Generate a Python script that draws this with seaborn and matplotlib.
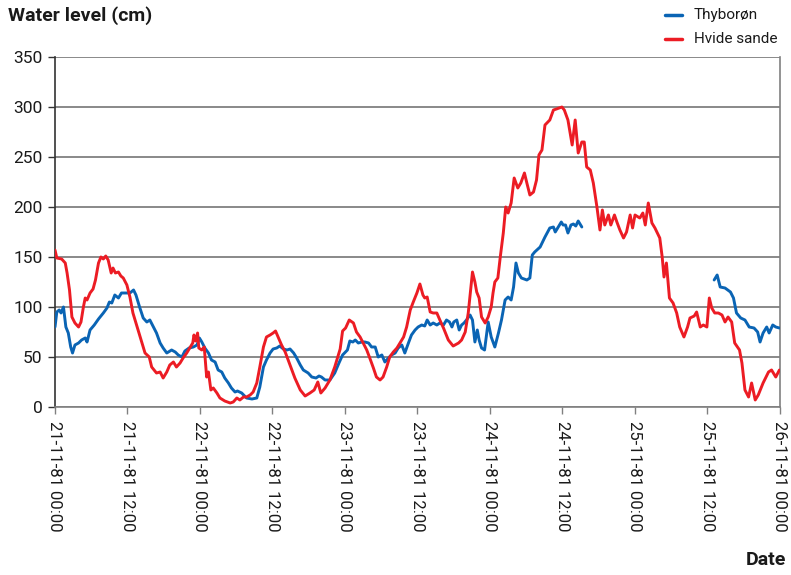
import numpy as np
import pandas as pd
import matplotlib
matplotlib.use("Agg")
import matplotlib.pyplot as plt
import matplotlib.dates as mdates
from matplotlib.lines import Line2D
import seaborn as sns

# Hours after 21-11-81 00:00 and water level (cm)
hvide_hours = [0.0, 0.3, 1.1, 1.7, 2.0, 2.4, 2.8, 3.3, 3.9, 4.3, 4.7, 5.0, 5.3, 5.8, 6.3, 6.7,
               7.2, 7.6, 8.0, 8.4, 8.8, 9.3, 9.6, 10.0, 10.5, 10.9, 11.3, 11.9, 12.4, 12.9,
               13.4, 14.1, 14.9, 15.6, 16.0, 16.8, 17.4, 17.9, 18.5, 19.0, 19.6, 20.1, 20.7,
               21.2, 21.8, 22.3, 22.8, 23.0, 23.3, 23.6, 23.8, 24.3, 24.7, 25.1, 25.4, 25.8,
               26.2, 26.8, 27.3, 28.1, 29.0, 29.5, 30.1, 30.6, 31.2, 31.7, 32.3, 32.8, 33.4,
               33.9, 34.5, 35.0, 35.6, 36.1, 36.5, 37.0, 37.5, 38.1, 38.9, 39.7, 40.6, 41.4,
               42.2, 42.9, 43.5, 44.0, 44.7, 45.5, 46.3, 47.2, 47.6, 48.1, 48.7, 49.4, 49.9,
               50.5, 51.0, 51.6, 52.1, 52.7, 53.2, 53.8, 54.3, 54.9, 55.4, 56.0, 56.6, 57.1,
               57.7, 58.2, 58.8, 59.3, 59.9, 60.4, 60.9, 61.2, 61.6, 62.1, 62.6, 63.2, 63.7,
               64.3, 65.1, 65.9, 66.8, 67.3, 67.9, 68.4, 68.8, 69.1, 69.5, 69.8, 70.2, 70.6,
               71.2, 71.7, 72.2, 72.5, 72.8, 73.3, 73.7, 74.2, 74.6, 75.0, 75.5, 76.0, 76.6,
               77.1, 77.7, 78.1, 78.6, 79.2, 79.7, 80.1, 80.6, 81.1, 81.9, 82.5, 83.0, 83.9,
               84.3, 84.9, 85.6, 86.1, 86.6, 87.2, 87.6, 88.0, 88.6, 89.1, 89.7, 90.2, 90.6,
               91.0, 91.6, 92.0, 92.6, 93.0, 93.5, 94.1, 94.6, 95.2, 95.6, 96.0, 96.8, 97.3,
               97.7, 98.2, 98.8, 99.3, 100.1, 100.5, 100.8, 101.2, 101.7, 102.3, 102.9, 103.4,
               104.1, 104.7, 105.1, 105.8, 106.2, 106.8, 107.3, 107.9, 108.3, 108.7, 109.2,
               109.8, 110.4, 110.9, 111.4, 112.0, 112.5, 113.3, 113.7, 114.2, 114.8, 115.3,
               115.9, 116.4, 117.2, 118.1, 118.6, 119.3, 119.9]
hvide_cm = [157, 149, 148, 144, 134, 117, 90, 84, 80, 85, 100, 109, 107, 114, 118, 127,
            144, 150, 148, 151, 147, 134, 139, 134, 135, 131, 129, 122, 110, 94,
            84, 70, 54, 50, 40, 34, 35, 29, 35, 42, 45, 40, 44,
            49, 54, 59, 64, 72, 66, 74, 59, 57, 60, 30, 35, 17,
            19, 14, 9, 6, 4, 5, 9, 7, 10, 10, 12, 15, 24,
            40, 60, 70, 72, 74, 76, 69, 62, 55, 42, 29, 17, 11,
            14, 17, 25, 14, 19, 27, 40, 58, 76, 79, 87, 84, 75,
            70, 64, 57, 49, 39, 30, 27, 30, 40, 50, 55, 59, 64,
            70, 80, 97, 105, 114, 123, 112, 109, 110, 95, 94, 94, 87,
            79, 67, 61, 64, 67, 75, 94, 117, 135, 125, 115, 109, 90,
            84, 90, 100, 114, 125, 129, 150, 174, 200, 194, 204, 229, 219,
            224, 234, 224, 212, 215, 227, 252, 257, 282, 287, 297, 298, 300,
            297, 287, 262, 287, 254, 265, 265, 240, 237, 224, 200, 177, 197,
            182, 192, 182, 192, 185, 177, 169, 175, 192, 179, 192, 189, 194,
            182, 204, 184, 179, 169, 150, 130, 144, 109, 104, 94, 80,
            70, 80, 89, 91, 95, 80, 82, 80, 109, 99, 94,
            94, 92, 85, 90, 85, 64, 57, 44, 17, 10, 24,
            7, 12, 24, 35, 37, 30, 37]

# Thyborøn record, two stretches with a break in between
thy_hours_a = [0.0, 0.3, 0.7, 1.0, 1.4, 1.8, 2.2, 2.6, 2.9, 3.3, 3.9, 4.4, 5.0, 5.3, 5.8,
               6.5, 7.2, 8.0, 8.6, 9.0, 9.4, 9.9, 10.5, 11.0, 11.8, 12.4, 13.0, 13.4, 14.0,
               14.6, 15.2, 15.7, 16.3, 16.8, 17.4, 17.9, 18.5, 19.3, 19.9, 20.4, 21.0, 21.5,
               22.2, 22.9, 23.5, 23.9, 24.3, 24.8, 25.4, 25.9, 26.5, 27.0, 27.6, 28.1, 28.7,
               29.2, 29.8, 30.2, 30.9, 31.7, 32.6, 33.4, 33.9, 34.5, 35.0, 35.6, 36.1, 36.7,
               37.2, 37.8, 38.4, 38.9, 39.5, 40.0, 40.6, 41.1, 41.9, 42.5, 43.2, 43.7, 44.1,
               44.7, 45.5, 46.3, 47.0, 47.6, 48.4, 48.8, 49.3, 49.7, 50.2, 50.8, 51.3, 51.9,
               52.4, 53.0, 53.5, 54.1, 54.6, 55.2, 55.7, 56.3, 56.8, 57.4, 57.9, 58.5, 59.0,
               59.6, 60.1, 60.7, 61.2, 61.6, 62.1, 62.6, 63.2, 63.7, 64.3, 64.8, 65.3, 65.7,
               66.0, 66.5, 66.9, 67.3, 67.7, 68.1, 68.7, 69.1, 69.5, 69.9, 70.2, 70.6, 71.1,
               71.7, 72.2, 72.8, 73.4, 73.9, 74.5, 75.0, 75.5, 75.9, 76.3, 76.7, 77.2, 78.1,
               78.6, 79.0, 79.4, 80.3, 81.1, 81.9, 82.5, 82.8, 83.3, 83.8, 84.1, 84.5, 84.9,
               85.4, 85.8, 86.2, 86.6, 87.2]
thy_cm_a = [80, 95, 97, 94, 100, 80, 74, 60, 54, 62, 64, 67, 69, 65, 77,
            82, 88, 94, 99, 105, 104, 112, 109, 114, 114, 114, 117, 112, 100,
            89, 85, 87, 80, 74, 64, 59, 54, 57, 55, 52, 50, 56,
            59, 60, 62, 69, 65, 59, 54, 47, 45, 37, 35, 29, 24,
            19, 15, 16, 14, 9, 8, 9, 20, 40, 47, 54, 58, 59,
            61, 58, 57, 58, 54, 49, 42, 37, 34, 30, 29, 31, 30,
            27, 27, 34, 44, 52, 57, 66, 65, 67, 64, 65, 65, 64,
            60, 60, 50, 52, 45, 49, 52, 54, 59, 62, 54, 64, 72,
            77, 80, 82, 81, 87, 82, 84, 82, 84, 82, 87, 85, 80,
            85, 87, 77, 82, 84, 87, 92, 87, 65, 77, 67, 59, 57,
            85, 70, 60, 74, 87, 107, 110, 107, 120, 144, 134, 129, 127,
            129, 152, 155, 160, 170, 179, 180, 175, 180, 185, 182, 182, 174,
            182, 183, 181, 186, 180]
thy_hours_b = [109.1, 109.6, 110.1, 110.9, 111.8, 112.3, 112.8, 113.5, 114.2, 114.9, 115.7,
               116.3, 116.7, 117.2, 117.8, 118.2, 118.8, 119.3, 119.9]
thy_cm_b = [127, 132, 120, 119, 115, 109, 94, 89, 87, 80, 79,
            75, 65, 74, 80, 74, 82, 80, 79]

series_names = ["Thyborøn", "Hvide sande"]
series_colors = ["#0a64b4", "#ec1c24"]
start = pd.Timestamp("1981-11-21 00:00")
tick_hours = list(range(0, 121, 12))

frames = [
    pd.DataFrame({"hours": thy_hours_a, "cm": thy_cm_a, "station": series_names[0], "part": 0}),
    pd.DataFrame({"hours": thy_hours_b, "cm": thy_cm_b, "station": series_names[0], "part": 1}),
    pd.DataFrame({"hours": hvide_hours, "cm": hvide_cm, "station": series_names[1], "part": 2}),
]
df = pd.concat(frames, ignore_index=True)
df["time"] = start + pd.to_timedelta(df["hours"], unit="h")

sns.set_theme(style="white")
plt.rcParams["font.family"] = ["Roboto", "DejaVu Sans"]

W, H = 791, 575
fig = plt.figure(figsize=(W / 100, H / 100), dpi=100)
ax = fig.add_axes([55 / W, 1 - 407 / H, 725 / W, 350 / H])

sns.lineplot(data=df, x="time", y="cm", hue="station", units="part", estimator=None,
             palette=dict(zip(series_names, series_colors)), hue_order=series_names,
             linewidth=2.1, sort=False, legend=False, ax=ax, zorder=3)

ax.set_xlim(start, start + pd.Timedelta(hours=120))
ax.set_ylim(0, 350)
ax.set_yticks(range(0, 351, 50))
ax.set_xticks([start + pd.Timedelta(hours=h) for h in tick_hours])
ax.xaxis.set_major_formatter(mdates.DateFormatter("%d-%m-%y %H:%M"))
ax.yaxis.grid(True, color="#808080", linewidth=1.3)
ax.xaxis.grid(False)
ax.set_axisbelow(True)

for side in ["left", "bottom", "right"]:
    ax.spines[side].set_visible(True)
    ax.spines[side].set_linewidth(1.2)
ax.spines["left"].set_color("#333333")
ax.spines["bottom"].set_color("#808080")
ax.spines["right"].set_color("#808080")
ax.spines["top"].set_visible(False)

ax.tick_params(axis="y", which="major", left=True, length=5, width=1, color="#333333",
               labelsize=12.5, pad=4, labelcolor="#1a1a1a")
ax.tick_params(axis="x", which="major", bottom=True, length=5, width=1, color="#808080",
               labelsize=12, pad=5, labelrotation=-90, labelcolor="#1a1a1a")
for lbl in ax.get_xticklabels():
    lbl.set_horizontalalignment("center")
    lbl.set_verticalalignment("top")

ax.set_xlabel("")
ax.set_ylabel("")

fig.text(8 / W, 1 - 16 / H, "Water level (cm)", fontsize=14, fontweight="bold",
         ha="left", va="center", color="#1a1a1a")
fig.text(786 / W, 1 - 560 / H, "Date", fontsize=14, fontweight="bold",
         ha="right", va="center", color="#1a1a1a")

# Legend keys: short line samples with labels to their right
for i, (name, color) in enumerate(zip(series_names, series_colors)):
    y = 1 - (15 + 24 * i) / H
    fig.add_artist(Line2D([665 / W, 682 / W], [y, y], color=color, linewidth=2.5,
                          transform=fig.transFigure))
    fig.text(694 / W, y, name, fontsize=11, ha="left", va="center", color="#1a1a1a")

fig.savefig("out.png", dpi=100, facecolor="white")
